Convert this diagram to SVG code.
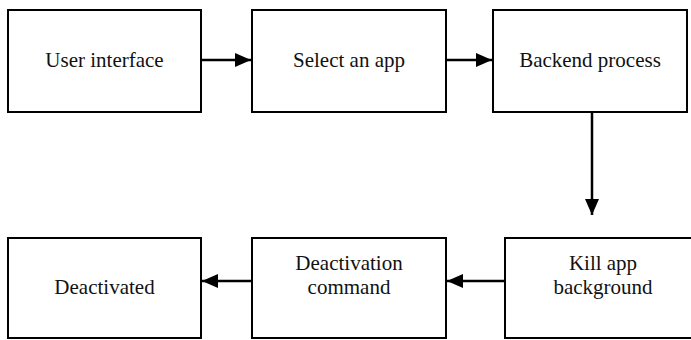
<svg xmlns="http://www.w3.org/2000/svg" width="691" height="340" viewBox="0 0 691 340">
  <defs>
    <marker id="arrow" viewBox="0 0 16 14" refX="16" refY="7" markerWidth="16" markerHeight="14" markerUnits="userSpaceOnUse" orient="auto">
      <path d="M0,0 L16,7 L0,14 Z" fill="#000"/>
    </marker>
    <style>
      .box { fill: #fff; stroke: #000; stroke-width: 2; }
      .label { font-family: 'Liberation Serif', 'Times New Roman', 'DejaVu Serif', serif; font-size: 21px; fill: #111; text-anchor: middle; }
      .edge { stroke: #000; stroke-width: 2.5; fill: none; marker-end: url(#arrow); }
    </style>
  </defs>
  <rect width="691" height="340" fill="#fff"/>

  <g id="user-interface">
    <rect class="box" x="8" y="10" width="193" height="102"/>
    <text class="label" x="104.5" y="67" font-family="Liberation Serif, serif">User interface</text>
  </g>
  <g id="select-app">
    <rect class="box" x="252" y="10" width="194" height="102"/>
    <text class="label" x="349" y="67" font-family="Liberation Serif, serif">Select an app</text>
  </g>
  <g id="backend-process">
    <rect class="box" x="493" y="10" width="194" height="102"/>
    <text class="label" x="590" y="67" font-family="Liberation Serif, serif">Backend process</text>
  </g>
  <g id="kill-app">
    <rect class="box" x="505" y="238" width="196" height="100"/>
    <text class="label" x="603" y="270" font-family="Liberation Serif, serif">Kill app</text>
    <text class="label" x="603" y="294" font-family="Liberation Serif, serif">background</text>
  </g>
  <g id="deactivation-command">
    <rect class="box" x="252" y="238" width="194" height="100"/>
    <text class="label" x="349" y="270" font-family="Liberation Serif, serif">Deactivation</text>
    <text class="label" x="349" y="294" font-family="Liberation Serif, serif">command</text>
  </g>
  <g id="deactivated">
    <rect class="box" x="8" y="238" width="193" height="100"/>
    <text class="label" x="104.5" y="294" font-family="Liberation Serif, serif">Deactivated</text>
  </g>

  <g id="connectors">
    <line class="edge" x1="201" y1="60" x2="251" y2="60"/>
    <line class="edge" x1="446" y1="60" x2="492" y2="60"/>
    <line class="edge" x1="592" y1="112" x2="592" y2="215"/>
    <line class="edge" x1="505" y1="281" x2="447" y2="281"/>
    <line class="edge" x1="252" y1="281" x2="202" y2="281"/>
  </g>
</svg>
